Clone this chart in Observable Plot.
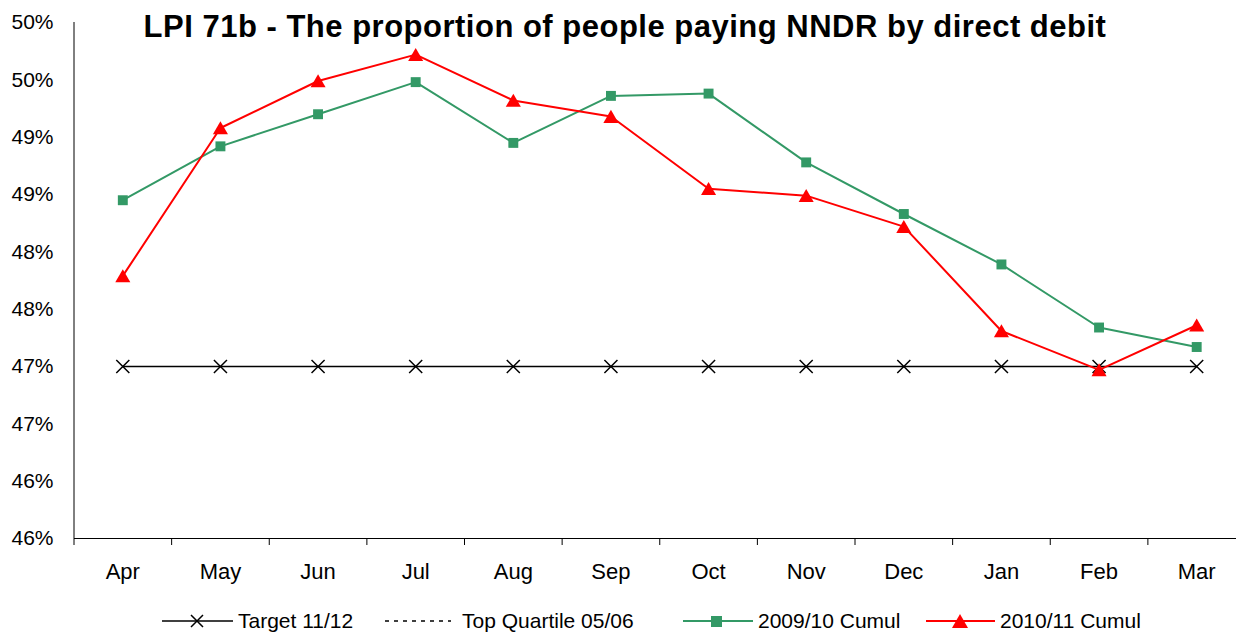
<!DOCTYPE html>
<html>
<head>
<meta charset="utf-8">
<script src="https://cdn.jsdelivr.net/npm/d3@7"></script>
<script src="https://cdn.jsdelivr.net/npm/@observablehq/plot@0.6"></script>
<style>
  html, body { margin: 0; padding: 0; background: #fff; }
  #wrap { position: relative; width: 1236px; height: 634px; overflow: hidden; font-family: "Liberation Sans", Arial, sans-serif; }
  #title { position: absolute; left: 0; width: 1250px; top: 9px; text-align: center; font-weight: bold; font-size: 31px; letter-spacing: 0.5px; color: #000; line-height: 36px; }
  .leg { position: absolute; top: 608px; height: 26px; display: flex; align-items: center; font-size: 21px; color: #000; white-space: nowrap; }
  .leg svg { margin-right: 5px; }
  .xlab text { font-size: 22px; }
</style>
</head>
<body>
<div id="wrap">
  <div id="chart"></div>
  <div id="title">LPI 71b - The proportion of people paying NNDR by direct debit</div>
  <div id="legend"></div>
</div>
<script>
const months = ["Apr", "May", "Jun", "Jul", "Aug", "Sep", "Oct", "Nov", "Dec", "Jan", "Feb", "Mar"];
const target1112 = [47, 47, 47, 47, 47, 47, 47, 47, 47, 47, 47, 47];
const cumul0910 = [48.45, 48.92, 49.20, 49.48, 48.95, 49.36, 49.38, 48.78, 48.33, 47.89, 47.34, 47.17];
const cumul1011 = [47.79, 49.08, 49.49, 49.72, 49.32, 49.18, 48.55, 48.49, 48.22, 47.31, 46.97, 47.36];
const yTicks = [45.5, 46, 46.5, 47, 47.5, 48, 48.5, 49, 49.5, 50];
const yLabels = ["46%", "46%", "47%", "47%", "48%", "48%", "49%", "49%", "50%", "50%"];
const seriesNames = ["Target 11/12", "Top Quartile 05/06", "2009/10 Cumul", "2010/11 Cumul"];

const green = "#339966";
const red = "#ff0000";

const tgt = months.map((m, i) => ({month: m, value: target1112[i]}));
const s0910 = months.map((m, i) => ({month: m, value: cumul0910[i]}));
const s1011 = months.map((m, i) => ({month: m, value: cumul1011[i]}));

const xRange = [73.5, 1245];
const step = (xRange[1] - xRange[0]) / months.length;

const chart = Plot.plot({
  width: 1236,
  height: 600,
  marginTop: 22,
  marginBottom: 62,
  marginLeft: 74,
  marginRight: 0,
  style: {fontFamily: "'Liberation Sans', Arial, sans-serif", fontSize: "21px", color: "#000", background: "#fff", overflow: "hidden"},
  x: {type: "band", domain: months, range: xRange, padding: 0, round: false, label: null},
  y: {domain: [yTicks[0], yTicks[yTicks.length - 1]], range: [538, 22], label: null},
  marks: [
    Plot.ruleX([months[0]], {dx: -step / 2, stroke: "#000", strokeWidth: 1}),
    Plot.ruleY([yTicks[0]], {stroke: "#000", strokeWidth: 1}),
    Plot.axisY(yTicks, {tickSize: 0, tickPadding: 21, tickFormat: d => yLabels[yTicks.indexOf(d)], label: null}),
    Plot.axisX({tickSize: 7, tickFormat: () => "", dx: -step / 2, stroke: "#000", label: null}),
    Plot.axisX({tickSize: 0, tickPadding: 25, label: null, className: "xlab"}),
    Plot.line(tgt, {x: "month", y: "value", stroke: "#000", strokeWidth: 1.6}),
    Plot.dot(tgt, {x: "month", y: "value", symbol: "times", r: 6, stroke: "#000", strokeWidth: 1.5}),
    Plot.line(s0910, {x: "month", y: "value", stroke: green, strokeWidth: 2}),
    Plot.dot(s0910, {x: "month", y: "value", symbol: "square", r: 5.6, fill: green, stroke: "none"}),
    Plot.line(s1011, {x: "month", y: "value", stroke: red, strokeWidth: 2}),
    Plot.dot(s1011, {x: "month", y: "value", symbol: "triangle", r: 5.6, dy: 2, fill: red, stroke: "none"})
  ]
});
document.getElementById("chart").appendChild(chart);

// Legend
const legendItems = [
  {name: seriesNames[0], left: 162, w: 71, svg: '<line x1="0" y1="13" x2="71" y2="13" stroke="#000" stroke-width="1.6"/><path d="M29,7 L41,19 M41,7 L29,19" stroke="#000" stroke-width="1.5"/>'},
  {name: seriesNames[1], left: 385, w: 72, svg: '<line x1="0" y1="13" x2="66" y2="13" stroke="#000" stroke-width="1.6" stroke-dasharray="4,5"/>'},
  {name: seriesNames[2], left: 683, w: 70, svg: '<line x1="0" y1="13" x2="70" y2="13" stroke="' + green + '" stroke-width="2"/><rect x="28" y="8" width="11" height="11" fill="' + green + '"/>'},
  {name: seriesNames[3], left: 926, w: 69, svg: '<line x1="0" y1="13" x2="69" y2="13" stroke="' + red + '" stroke-width="2"/><path d="M26,20 L34,6 L42,20 Z" fill="' + red + '"/>'}
];
const leg = document.getElementById("legend");
legendItems.forEach(it => {
  const d = document.createElement("div");
  d.className = "leg";
  d.style.left = it.left + "px";
  d.innerHTML = '<svg width="' + it.w + '" height="26">' + it.svg + '</svg><span>' + it.name + '</span>';
  leg.appendChild(d);
});
</script>
</body>
</html>
